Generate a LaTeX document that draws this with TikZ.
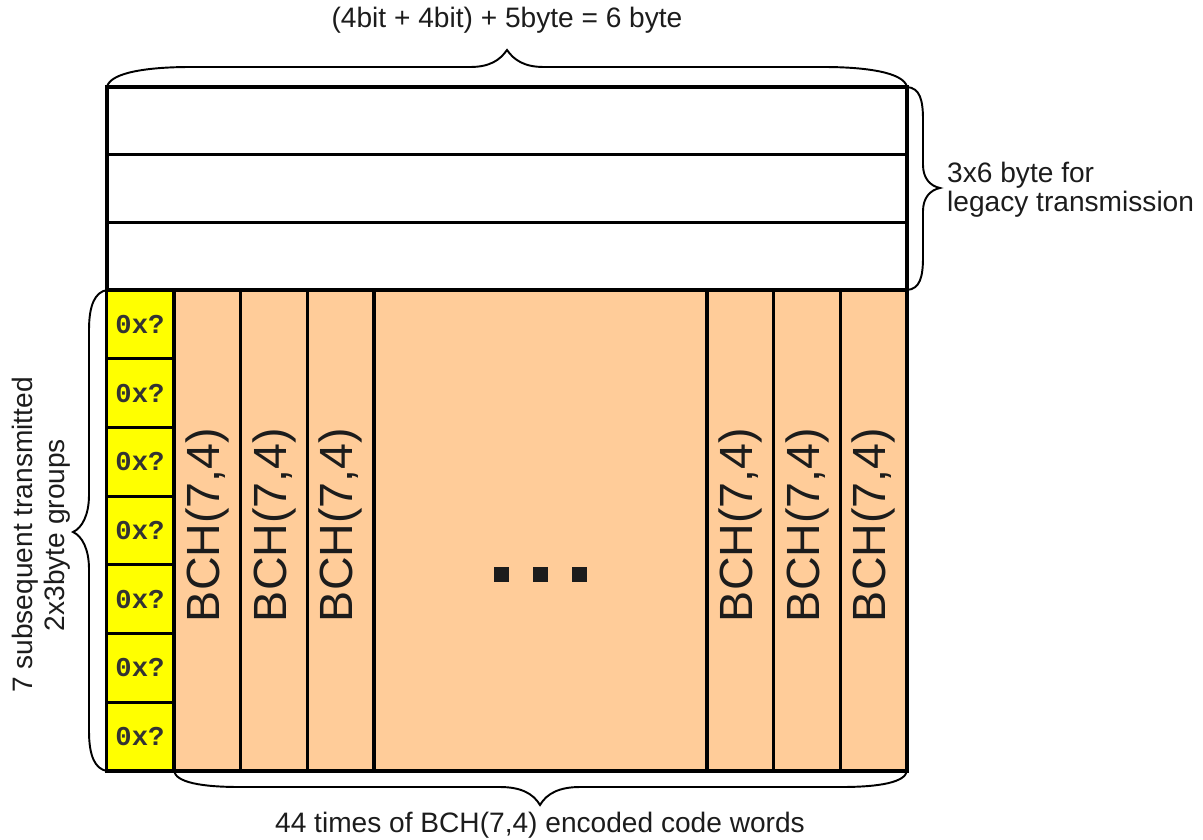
\documentclass[tikz,border=0pt]{standalone}
\usepackage{fontspec}
\setmainfont{Liberation Sans}
\newfontfamily\codefont{Liberation Mono}
\usepackage{xcolor}
\usepackage{tikz}
\usetikzlibrary{positioning}
\definecolor{idyellow}{RGB}{255,255,0}
\definecolor{bchorange}{RGB}{255,204,153}
\definecolor{ink}{RGB}{28,28,28}

\begin{document}
\begin{tikzpicture}[x=0.02cm,y=-0.02cm,every node/.style={font=\fontsize{16}{16.5}\selectfont,text=ink},
          legacyrow/.style={draw=black,line width=1.8pt,fill=white,minimum width=16cm,minimum height=1.3533cm,inner sep=0pt},
          bchcol/.style={draw=black,line width=1.8pt,fill=bchorange,minimum width=1.3333cm,minimum height=9.62cm,inner sep=0pt},
          idcell/.style={draw=black,line width=1.8pt,fill=idyellow,minimum width=1.34cm,minimum height=1.3743cm,inner sep=0pt,
            font=\fontsize{15.5}{15.5}\selectfont\codefont\bfseries,text=black!80},
          bchlabel/.style={rotate=90,font=\fontsize{26.5}{26.5}\selectfont},
          dotsq/.style={fill=ink,minimum size=0.3cm,inner sep=0pt},
          bracket/.style={draw=black,line width=1.1pt}]
        \useasboundingbox (0,0) rectangle (1203,839);
        % legacy rows
        \foreach \i in {1,2,3}
          \node[legacyrow] (row\i) at (507,{87+67.667*(\i-0.5)}) {};
        % BCH columns
        \foreach \i in {1,2,3}
          \node[bchcol] (col\i) at ({174+66.667*(\i-0.5)},530.5) {};
        \node[bchcol,minimum width=6.66cm] (colmid) at (540.5,530.5) {};
        \foreach \i in {4,5,6}
          \node[bchcol] (col\i) at ({707+66.667*(\i-3.5)},530.5) {};
        \foreach \i in {1,...,6}
          \node[bchlabel] (lbl\i) at (col\i |- 0,525) {BCH(7,4)};
        \foreach \x/\n in {501.5/a,540.5/b,579.5/c}
          \node[dotsq] (dot\n) at (\x,574.5) {};
        % yellow id cells
        \foreach \i in {1,...,7}
          \node[idcell] (id\i) at (140,{290+68.714*(\i-0.5)}) {0x?};
        % braces
        \draw[bracket] (107,87) .. controls (110,72) and (150,67) .. (190,67) -- (470,67)
          .. controls (490,67) and (500,60) .. (507,50) .. controls (514,60) and (524,67) .. (544,67)
          -- (824,67) .. controls (864,67) and (904,72) .. (907,87);
        \draw[bracket] (907,87) .. controls (920,88) and (923,100) .. (923,120) -- (923,165)
          .. controls (923,178) and (930,186) .. (940,188) .. controls (930,190) and (923,198) .. (923,211)
          -- (923,257) .. controls (923,277) and (920,289) .. (907,290);
        \draw[bracket] (107,290) .. controls (95,292) and (89,305) .. (89,330) -- (89,495)
          .. controls (89,515) and (82,528) .. (73,532) .. controls (82,536) and (89,549) .. (89,569)
          -- (89,731) .. controls (89,756) and (95,769) .. (107,771);
        \draw[bracket] (174,771) .. controls (176,782) and (200,787) .. (240,787) -- (500,787)
          .. controls (520,787) and (533,793) .. (540,805) .. controls (547,793) and (560,787) .. (580,787)
          -- (841,787) .. controls (881,787) and (905,782) .. (907,771);
        % labels
        \node (widthlbl) at (507,20) {(4bit + 4bit) + 5byte = 6 byte};
        \node[anchor=west,align=left,font=\fontsize{16}{16.5}\selectfont] (legacylbl) at (941,190) {3x6 byte for\\legacy transmission};
        \node[rotate=90,align=center,font=\fontsize{16}{18}\selectfont] (grouplbl) at (41,535) {7 subsequent transmitted\\2x3byte groups};
        \node (countlbl) at (540,825) {44 times of BCH(7,4) encoded code words};
      \end{tikzpicture}
\end{document}
